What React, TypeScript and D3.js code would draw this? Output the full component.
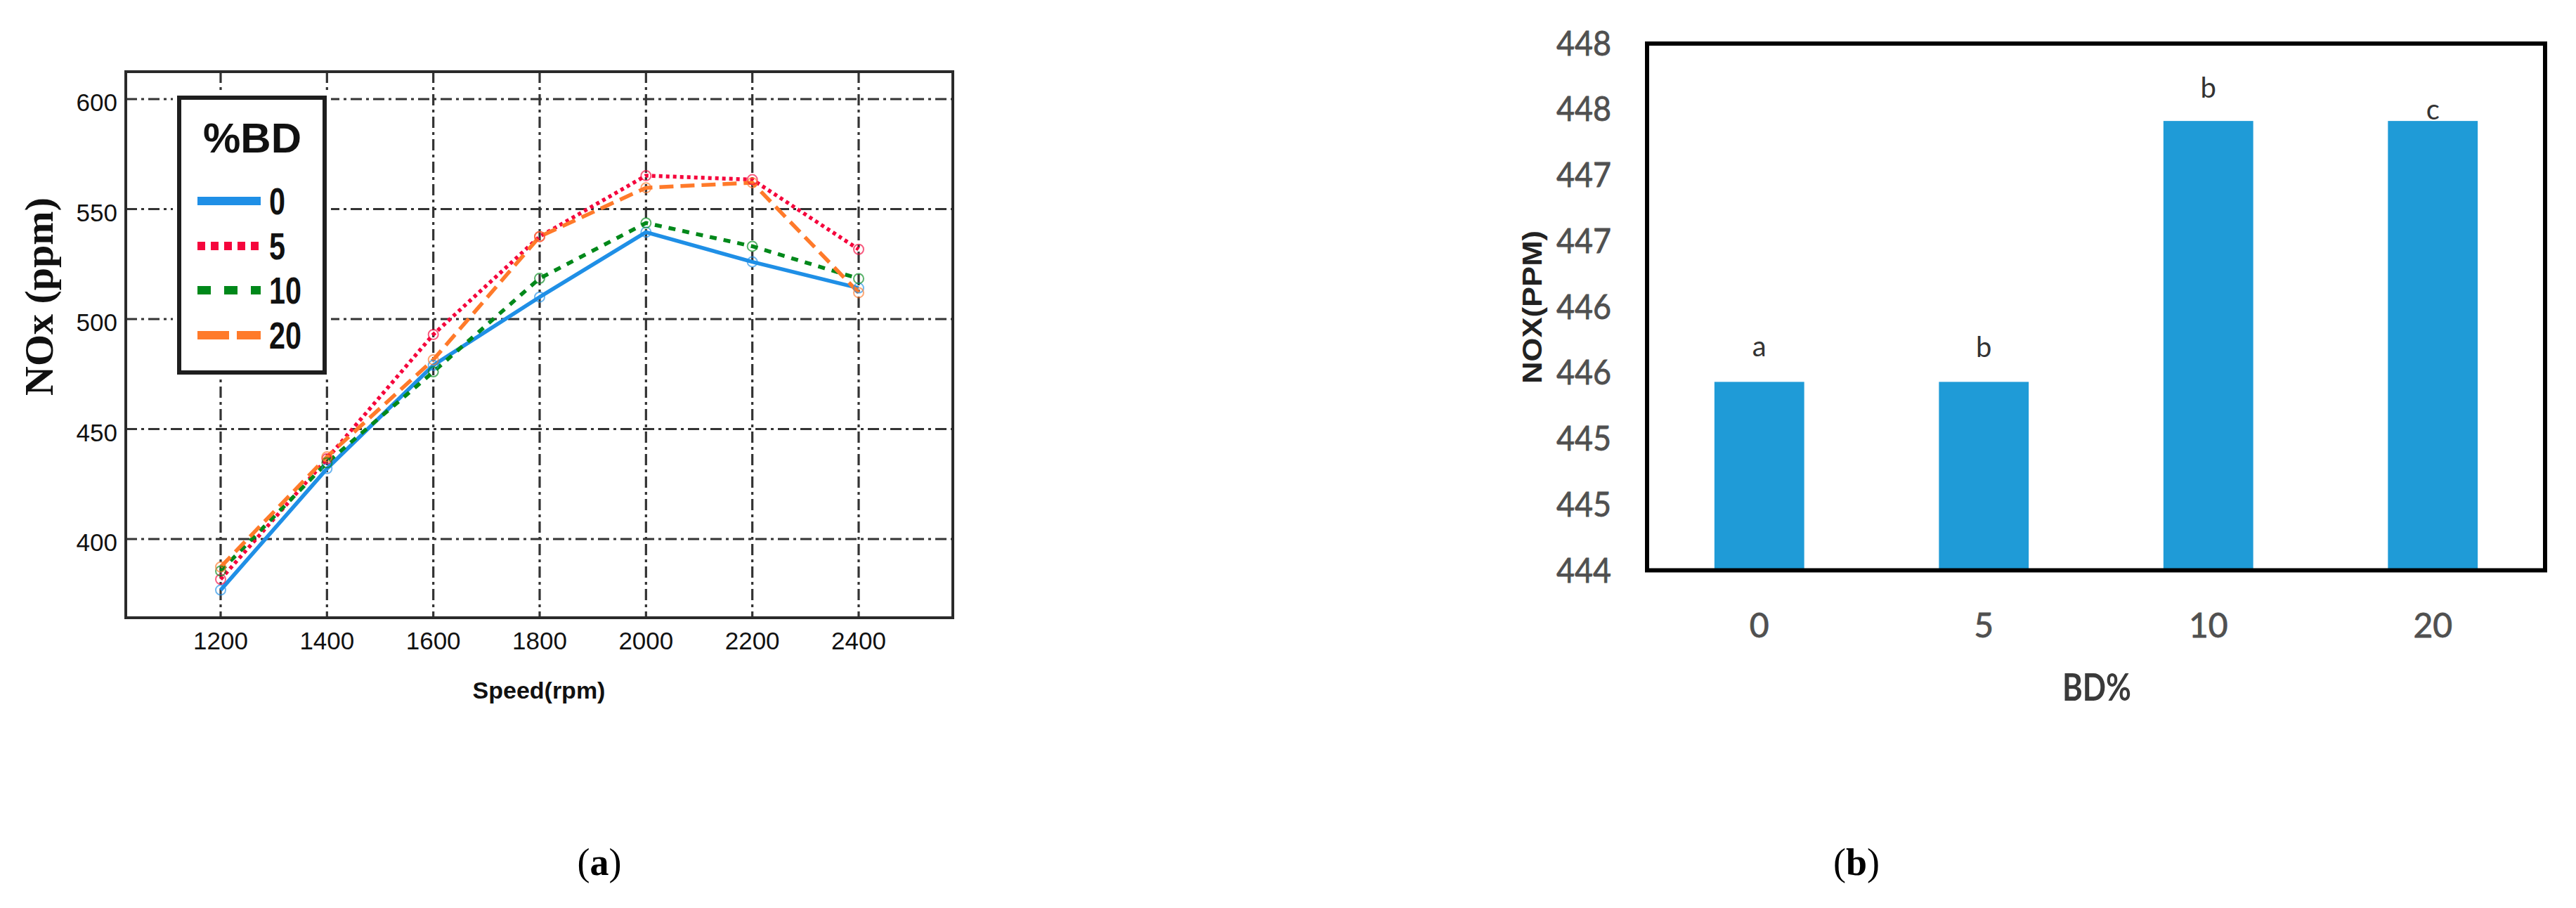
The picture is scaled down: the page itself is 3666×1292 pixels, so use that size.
import React from "react";
import * as d3 from "d3";

// ---------- Data: panel (a) ----------
const speeds = [1200, 1400, 1600, 1800, 2000, 2200, 2400];
const nox0 = [376.8, 432.0, 479.0, 510.0, 539.5, 526.0, 514.1];
const nox5 = [381.7, 436.5, 493.0, 537.5, 565.2, 563.4, 531.7];
const nox10 = [385.5, 434.7, 476.0, 518.5, 543.7, 533.1, 518.4];
const nox20 = [387.3, 437.4, 481.5, 537.5, 559.7, 562.0, 512.0];
const seriesNames = ["0", "5", "10", "20"];
const xTicksA = [1200, 1400, 1600, 1800, 2000, 2200, 2400];
const yTicksA = [400, 450, 500, 550, 600];

// ---------- Data: panel (b) ----------
const bdCats = ["0", "5", "10", "20"];
const bdValues = [445.43, 445.43, 447.41, 447.41];
const bdLetters = ["a", "b", "b", "c"];
const yTicksB = [444, 444.5, 445, 445.5, 446, 446.5, 447, 447.5, 448];

// ---------- Styles ----------
const seriesStyles = [
  { color: "#1f8fe6", dash: null, legendDash: null },
  { color: "#f5053c", dash: "5 5", legendDash: "11 8" },
  { color: "#00881a", dash: "10 10", legendDash: "19 19" },
  { color: "#ff7a2a", dash: "20 10", legendDash: "45 11" },
];
const letterOffsets = [36, 35, 33, 2];

const W = 3666;
const H = 1292;

export default function App() {
  // Panel (a) frame and scales
  const A = { left: 179, right: 1356, top: 102, bottom: 879 };
  const xA = d3.scaleLinear().domain([1200, 2400]).range([314, 1222]);
  const yA = d3.scaleLinear().domain([400, 600]).range([767, 141]);
  const allSeries = [nox0, nox5, nox10, nox20];
  const lineGen = d3
    .line<number>()
    .x((_, i) => xA(speeds[i]))
    .y((d) => yA(d));

  // Panel (b) frame and scales
  const B = { left: 2344, right: 3622, top: 62, bottom: 811.5 };
  const yB = d3.scaleLinear().domain([444, 448]).range([811.5, 61.5]);
  const xB = d3
    .scaleBand<string>()
    .domain(bdCats)
    .range([B.left, B.right])
    .paddingInner(0.6)
    .paddingOuter(0.3);

  const gridDash = "16 6 4 6";
  const sans = "'Liberation Sans', Arial, sans-serif";
  const calib = "Lato, 'Open Sans', sans-serif";

  // legend geometry
  const leg = { x: 255, y: 139, w: 207, h: 391 };
  const legRows = [286, 350, 413, 477];

  return (
    <svg
      width={W}
      height={H}
      viewBox={`0 0 ${W} ${H}`}
      style={{ position: "absolute", left: 0, top: 0, background: "#fff" }}
    >
      <rect x={0} y={0} width={W} height={H} fill="#fff" />

      {/* ================= Panel (a) ================= */}
      {yTicksA.map((t) => (
        <line
          key={"gy" + t}
          x1={A.left}
          x2={A.right}
          y1={yA(t)}
          y2={yA(t)}
          stroke="#333"
          strokeWidth={3.2}
          strokeDasharray={gridDash}
        />
      ))}
      {xTicksA.map((t) => (
        <line
          key={"gx" + t}
          x1={xA(t)}
          x2={xA(t)}
          y1={A.top}
          y2={A.bottom}
          stroke="#333"
          strokeWidth={3.2}
          strokeDasharray={gridDash}
        />
      ))}
      <rect x={leg.x - 9} y={leg.y - 9} width={leg.w + 18} height={leg.h + 18} fill="#fff" />

      {allSeries.map((s, i) => (
        <path
          key={"ln" + i}
          d={lineGen(s) || ""}
          fill="none"
          stroke={seriesStyles[i].color}
          strokeWidth={5.5}
          strokeDasharray={seriesStyles[i].dash || undefined}
          strokeLinejoin="round"
        />
      ))}
      {allSeries.map((s, i) =>
        s.map((v, j) => (
          <circle
            key={"mk" + i + "-" + j}
            cx={xA(speeds[j])}
            cy={yA(v)}
            r={7}
            fill="none"
            stroke={seriesStyles[i].color}
            strokeOpacity={0.65}
            strokeWidth={2}
          />
        ))
      )}

      <rect
        x={A.left}
        y={A.top}
        width={A.right - A.left}
        height={A.bottom - A.top}
        fill="none"
        stroke="#2a2a2a"
        strokeWidth={4}
      />

      {/* legend */}
      <rect x={leg.x} y={leg.y} width={leg.w} height={leg.h} fill="#fff" stroke="#1e1e1e" strokeWidth={6} />
      <text x={359} y={217} textAnchor="middle" fontFamily={sans} fontWeight="bold" fontSize={60} fill="#111">
        %BD
      </text>
      {seriesNames.map((n, i) => (
        <g key={"lg" + n}>
          <line
            x1={281}
            x2={371}
            y1={legRows[i]}
            y2={legRows[i]}
            stroke={seriesStyles[i].color}
            strokeWidth={12}
            strokeDasharray={seriesStyles[i].legendDash || undefined}
          />
          <text
            x={383}
            y={legRows[i] + 19}
            fontFamily={sans}
            fontWeight="bold"
            fontSize={54}
            fill="#111"
            textLength={n.length * 23}
            lengthAdjust="spacingAndGlyphs"
          >
            {n}
          </text>
        </g>
      ))}

      {yTicksA.map((t) => (
        <text key={"ty" + t} x={167} y={yA(t) + 17} textAnchor="end" fontFamily={sans} fontSize={35} fill="#111">
          {t}
        </text>
      ))}
      {xTicksA.map((t) => (
        <text key={"tx" + t} x={xA(t)} y={924} textAnchor="middle" fontFamily={sans} fontSize={35} fill="#111">
          {t}
        </text>
      ))}
      <text x={767} y={994} textAnchor="middle" fontFamily={sans} fontWeight="bold" fontSize={34} fill="#111">
        Speed(rpm)
      </text>
      <text
        transform="translate(75,422) rotate(-90)"
        textAnchor="middle"
        fontFamily="'Liberation Serif', 'Times New Roman', serif"
        fontWeight="bold"
        fontSize={58}
        fill="#111"
      >
        NOx (ppm)
      </text>

      {/* ================= Panel (b) ================= */}
      {bdCats.map((c, i) => (
        <rect
          key={"bar" + c}
          x={xB(c)}
          y={yB(bdValues[i])}
          width={xB.bandwidth()}
          height={yB(444) - yB(bdValues[i])}
          fill="#1f9bd7"
        />
      ))}
      {bdCats.map((c, i) => (
        <text
          key={"let" + c}
          x={(xB(c) || 0) + xB.bandwidth() / 2}
          y={yB(bdValues[i]) - letterOffsets[i]}
          textAnchor="middle"
          fontFamily={calib}
          fontSize={40}
          fill="#333"
        >
          {bdLetters[i]}
        </text>
      ))}
      <rect
        x={B.left}
        y={B.top}
        width={B.right - B.left}
        height={B.bottom - B.top}
        fill="none"
        stroke="#000"
        strokeWidth={6}
      />
      {yTicksB.map((t) => (
        <text
          key={"tby" + t}
          x={2293}
          y={yB(t) + 17}
          textAnchor="end"
          fontFamily={calib}
          fontSize={48}
          fill="#505050"
          stroke="#505050"
          strokeWidth={0.8}
          textLength={78}
          lengthAdjust="spacingAndGlyphs"
        >
          {Math.round(t)}
        </text>
      ))}
      {bdCats.map((c) => (
        <text
          key={"tbx" + c}
          x={(xB(c) || 0) + xB.bandwidth() / 2}
          y={907}
          textAnchor="middle"
          fontFamily={calib}
          fontSize={48}
          fill="#505050"
          stroke="#505050"
          strokeWidth={0.8}
        >
          {c}
        </text>
      ))}
      <text
        x={2984}
        y={997}
        textAnchor="middle"
        fontFamily={calib}
        fontWeight="bold"
        fontSize={54}
        fill="#3a3a3a"
        textLength={98}
        lengthAdjust="spacingAndGlyphs"
      >
        BD%
      </text>
      <text
        transform="translate(2194,437) rotate(-90)"
        textAnchor="middle"
        fontFamily={sans}
        fontWeight="bold"
        fontSize={38}
        fill="#222"
        textLength={218}
        lengthAdjust="spacingAndGlyphs"
      >
        NOX(PPM)
      </text>

      {/* ================= Sub-captions ================= */}
      <text
        x={853}
        y={1245}
        textAnchor="middle"
        fontFamily="'Liberation Serif', 'Times New Roman', serif"
        fontSize={54}
        fill="#000"
      >
        (<tspan fontWeight="bold">a</tspan>)
      </text>
      <text
        x={2642}
        y={1245}
        textAnchor="middle"
        fontFamily="'Liberation Serif', 'Times New Roman', serif"
        fontSize={54}
        fill="#000"
      >
        (<tspan fontWeight="bold">b</tspan>)
      </text>
    </svg>
  );
}
